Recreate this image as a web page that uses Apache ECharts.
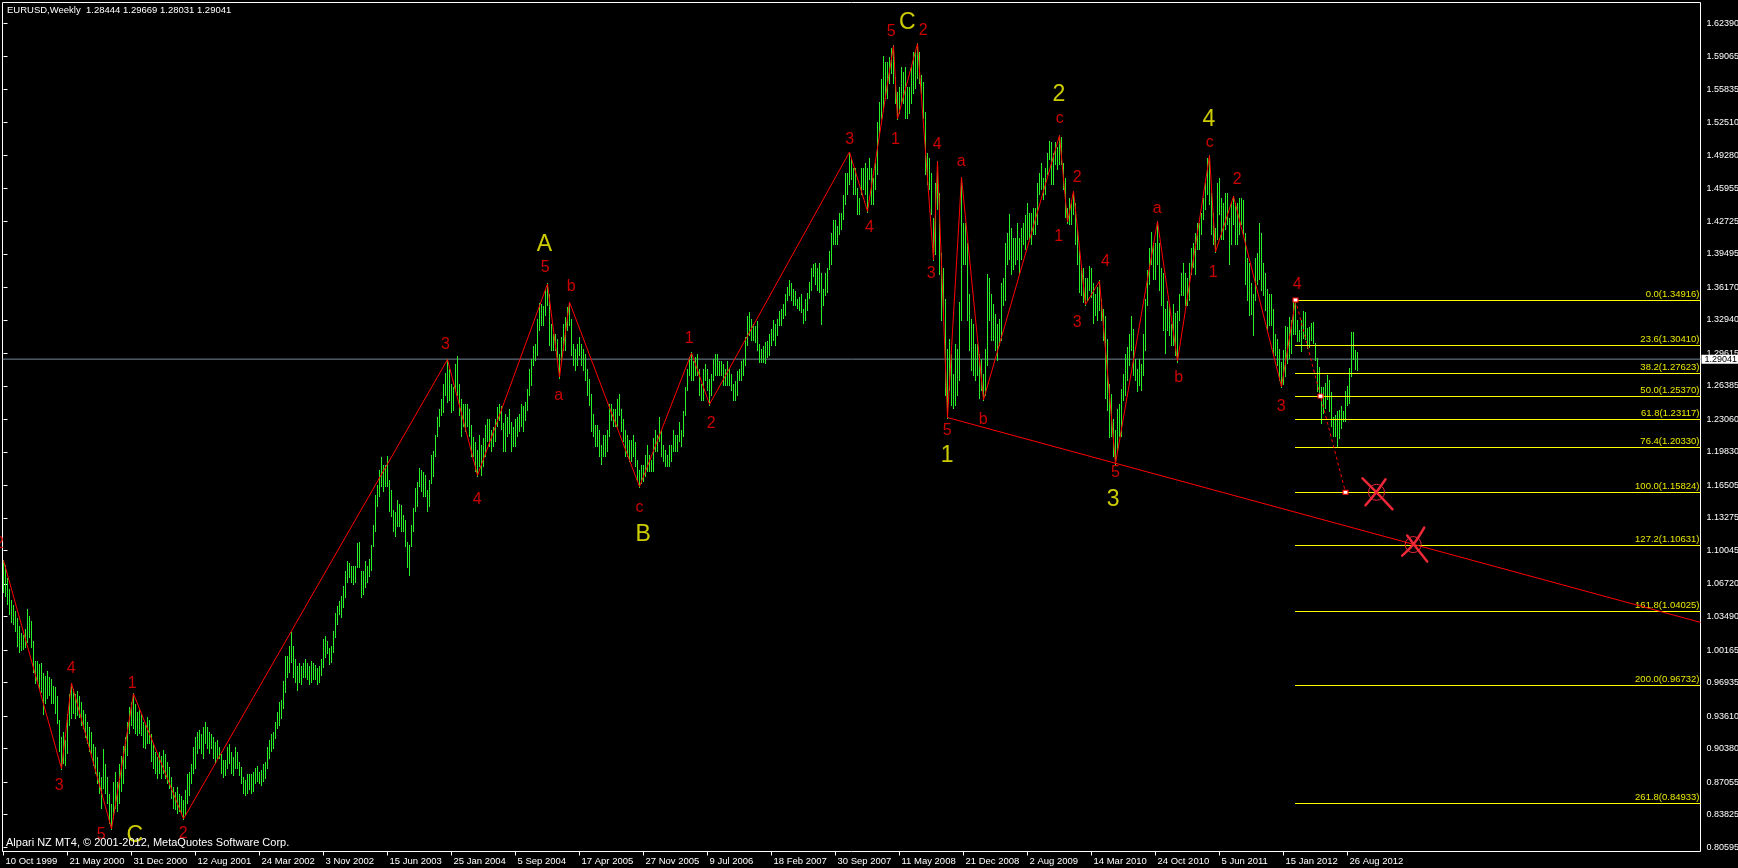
<!DOCTYPE html>
<html><head><meta charset="utf-8"><title>EURUSD Weekly</title>
<script src="https://cdn.jsdelivr.net/npm/echarts@6.0.0/dist/echarts.min.js"></script>
<style>html,body{margin:0;padding:0;background:#000;overflow:hidden}#chart{width:1738px;height:868px}</style>
</head><body><div id="chart"></div>
<script>
// ---------------- texts ----------------
const symbolTitle = 'EURUSD,Weekly  1.28444 1.29669 1.28031 1.29041';
const copyright = 'Alpari NZ MT4, \u00a9 2001-2012, MetaQuotes Software Corp.';
const lastPrice = 1.29041;

// ---------------- axes ----------------
const xLabels = ['10 Oct 1999','21 May 2000','31 Dec 2000','12 Aug 2001','24 Mar 2002','3 Nov 2002','15 Jun 2003','25 Jan 2004','5 Sep 2004','17 Apr 2005','27 Nov 2005','9 Jul 2006','18 Feb 2007','30 Sep 2007','11 May 2008','21 Dec 2008','2 Aug 2009','14 Mar 2010','24 Oct 2010','5 Jun 2011','15 Jan 2012','26 Aug 2012'];
const weeksPerLabel = 32;
const yTicks = [1.62390,1.59065,1.55835,1.52510,1.49280,1.45955,1.42725,1.39495,1.36170,1.32940,1.29615,1.26385,1.23060,1.19830,1.16505,1.13275,1.10045,1.06720,1.03490,1.00165,0.96935,0.93610,0.90380,0.87055,0.83825,0.80595];
const X_MIN = -0.5, X_MAX = 848.5;
const Y_MIN = 0.80166, Y_MAX = 1.64442;

// ---------------- weekly bars [low, high], week 0 = 10 Oct 1999 ----------------
const w1999 = [[1.0600,1.0905],[1.0560,1.0860],[1.0480,1.0730],[1.0380,1.0620],[1.0300,1.0510],[1.0280,1.0460],[1.0210,1.0400],[1.0060,1.0330],[1.0000,1.0250],[1.0020,1.0180],[1.0030,1.0160],[1.0050,1.0220]];
const w2000 = [[1.0100,1.0414],[1.0150,1.0350],[1.0050,1.0300],[0.9800,1.0100],[0.9690,0.9900],[0.9700,0.9900],[0.9640,0.9870],[0.9600,0.9880],[0.9390,0.9780],[0.9500,0.9750],
[0.9550,0.9800],[0.9580,0.9740],[0.9500,0.9720],[0.9500,0.9650],[0.9400,0.9640],[0.9300,0.9560],[0.9020,0.9320],[0.8840,0.9150],[0.8900,0.9200],[0.8880,0.9120],
[0.9000,0.9380],[0.9280,0.9580],[0.9350,0.9688],[0.9400,0.9620],[0.9350,0.9580],[0.9380,0.9600],[0.9360,0.9560],[0.9280,0.9500],[0.9250,0.9420],[0.9160,0.9380],
[0.9100,0.9300],[0.9020,0.9250],[0.9000,0.9200],[0.8880,0.9080],[0.8800,0.9050],[0.8700,0.8950],[0.8600,0.8800],[0.8450,0.8750],[0.8650,0.9030],[0.8600,0.8880],
[0.8500,0.8750],[0.8300,0.8580],[0.8242,0.8480],[0.8350,0.8700],[0.8450,0.8800],[0.8420,0.8700],[0.8500,0.8880],[0.8620,0.8960],[0.8700,0.9060],[0.8850,0.9150],
[0.8980,0.9300],[0.9200,0.9450]];
const w2001 = [[0.9280,0.9500],[0.9250,0.9582],[0.9200,0.9480],[0.9180,0.9400],[0.9200,0.9420],[0.9180,0.9380],[0.9060,0.9300],[0.9050,0.9270],[0.9100,0.9350],[0.9100,0.9320],
[0.8920,0.9180],[0.8850,0.9080],[0.8800,0.9000],[0.8750,0.8950],[0.8800,0.9000],[0.8750,0.8960],[0.8800,0.9020],[0.8750,0.8980],[0.8700,0.8900],[0.8650,0.8850],
[0.8550,0.8750],[0.8450,0.8650],[0.8440,0.8600],[0.8400,0.8650],[0.8420,0.8580],[0.8400,0.8560],[0.8341,0.8520],[0.8380,0.8620],[0.8500,0.8780],[0.8580,0.8800],
[0.8700,0.8880],[0.8800,0.9050],[0.8850,0.9150],[0.9000,0.9200],[0.9050,0.9220],[0.9000,0.9180],[0.8950,0.9250],[0.9100,0.9300],[0.9050,0.9250],[0.9000,0.9200],
[0.9050,0.9180],[0.8950,0.9150],[0.8900,0.9100],[0.8950,0.9120],[0.8950,0.9050],[0.8800,0.8980],[0.8760,0.8920],[0.8780,0.8920],[0.8850,0.9050],[0.8900,0.9080],
[0.8800,0.9000],[0.8780,0.8950]];
const w2002 = [[0.8850,0.9050],[0.8850,0.9000],[0.8780,0.8900],[0.8700,0.8850],[0.8600,0.8750],[0.8580,0.8720],[0.8600,0.8780],[0.8640,0.8780],[0.8600,0.8780],[0.8620,0.8800],
[0.8700,0.8840],[0.8720,0.8860],[0.8700,0.8800],[0.8680,0.8820],[0.8720,0.8880],[0.8750,0.8900],[0.8850,0.9050],[0.8950,0.9120],[0.9020,0.9180],[0.9050,0.9200],
[0.9150,0.9300],[0.9250,0.9400],[0.9280,0.9500],[0.9350,0.9520],[0.9450,0.9700],[0.9600,0.9950],[0.9750,0.9950],[0.9800,1.0050],[0.9900,1.0190],[0.9750,1.0050],
[0.9700,0.9920],[0.9620,0.9850],[0.9700,0.9880],[0.9680,0.9850],[0.9750,0.9880],[0.9750,0.9920],[0.9730,0.9880],[0.9680,0.9850],[0.9700,0.9900],[0.9730,0.9880],
[0.9730,0.9860],[0.9680,0.9830],[0.9700,0.9850],[0.9770,0.9920],[0.9850,1.0120],[0.9950,1.0150],[0.9990,1.0100],[0.9880,1.0030],[0.9900,1.0050],[1.0000,1.0200],
[1.0150,1.0380],[1.0280,1.0450]];
const w2003 = [[1.0380,1.0500],[1.0350,1.0550],[1.0450,1.0650],[1.0550,1.0800],[1.0700,1.0900],[1.0750,1.0880],[1.0700,1.0850],[1.0680,1.0850],[1.0700,1.0850],[1.0850,1.1070],
[1.0850,1.1080],[1.0550,1.0800],[1.0580,1.0800],[1.0650,1.0900],[1.0700,1.0850],[1.0760,1.0920],[1.0820,1.1050],[1.1050,1.1250],[1.1200,1.1550],[1.1450,1.1650],
[1.1550,1.1800],[1.1650,1.1930],[1.1600,1.1850],[1.1650,1.1850],[1.1650,1.1933],[1.1400,1.1700],[1.1350,1.1600],[1.1200,1.1400],[1.1150,1.1380],[1.1250,1.1500],
[1.1250,1.1460],[1.1200,1.1450],[1.1200,1.1350],[1.1050,1.1300],[1.0850,1.1080],[1.0770,1.1050],[1.1050,1.1250],[1.1200,1.1420],[1.1400,1.1620],[1.1450,1.1680],
[1.1650,1.1820],[1.1600,1.1800],[1.1550,1.1780],[1.1550,1.1750],[1.1400,1.1600],[1.1450,1.1700],[1.1680,1.1950],[1.1750,1.1990],[1.1950,1.2150],[1.2150,1.2320],
[1.2250,1.2400],[1.2350,1.2500]];
const w2004 = [[1.2380,1.2650],[1.2550,1.2760],[1.2480,1.2900],[1.2500,1.2800],[1.2380,1.2650],[1.2400,1.2620],[1.2600,1.2850],[1.2550,1.2930],[1.2350,1.2650],[1.2150,1.2500],
[1.2250,1.2450],[1.2200,1.2450],[1.2250,1.2450],[1.2150,1.2400],[1.1950,1.2250],[1.1950,1.2130],[1.1800,1.2080],[1.1750,1.2000],[1.1850,1.2150],[1.1760,1.2050],
[1.1850,1.2120],[1.1950,1.2250],[1.2100,1.2300],[1.2050,1.2300],[1.2000,1.2200],[1.2050,1.2230],[1.2100,1.2300],[1.2250,1.2420],[1.2300,1.2450],[1.2220,1.2430],
[1.2000,1.2270],[1.2000,1.2350],[1.2150,1.2320],[1.2180,1.2400],[1.2000,1.2280],[1.2050,1.2230],[1.2050,1.2300],[1.2150,1.2320],[1.2200,1.2350],[1.2250,1.2450],
[1.2200,1.2430],[1.2300,1.2470],[1.2400,1.2600],[1.2550,1.2800],[1.2650,1.2900],[1.2850,1.3030],[1.2900,1.3050],[1.2950,1.3300],[1.3200,1.3460],[1.3250,1.3450],
[1.3250,1.3430],[1.3350,1.3600]];
const w2005 = [[1.3450,1.3650],[1.3050,1.3550],[1.3000,1.3250],[1.3000,1.3150],[1.3000,1.3150],[1.2900,1.3100],[1.2725,1.2950],[1.2900,1.3120],[1.3000,1.3250],[1.3000,1.3320],
[1.3200,1.3420],[1.3250,1.3470],[1.2950,1.3300],[1.2850,1.3050],[1.2800,1.3000],[1.2850,1.3050],[1.2950,1.3120],[1.2850,1.3050],[1.2800,1.3000],[1.2700,1.2950],
[1.2550,1.2800],[1.2450,1.2700],[1.2200,1.2550],[1.2150,1.2350],[1.2050,1.2250],[1.2050,1.2250],[1.1950,1.2200],[1.1870,1.2050],[1.1950,1.2150],[1.1950,1.2150],
[1.2000,1.2200],[1.2150,1.2450],[1.2300,1.2450],[1.2250,1.2400],[1.2250,1.2400],[1.2250,1.2500],[1.2350,1.2550],[1.2200,1.2400],[1.2100,1.2300],[1.1950,1.2200],
[1.1950,1.2150],[1.1900,1.2100],[1.1900,1.2100],[1.1950,1.2150],[1.1850,1.2080],[1.1700,1.1900],[1.1638,1.1800],[1.1680,1.1850],[1.1700,1.1850],[1.1750,1.1950],
[1.1800,1.2050],[1.1800,1.1950]];
const w2006 = [[1.1800,1.1900],[1.1800,1.2120],[1.2000,1.2200],[1.2000,1.2150],[1.2100,1.2320],[1.1950,1.2200],[1.1900,1.2050],[1.1850,1.2000],[1.1850,1.1950],[1.1850,1.2050],
[1.1900,1.2050],[1.2000,1.2200],[1.2000,1.2150],[1.2000,1.2150],[1.2100,1.2280],[1.2050,1.2200],[1.2150,1.2380],[1.2350,1.2620],[1.2600,1.2800],[1.2750,1.2920],
[1.2700,1.2965],[1.2700,1.2880],[1.2750,1.2920],[1.2750,1.2950],[1.2550,1.2800],[1.2500,1.2650],[1.2500,1.2800],[1.2700,1.2850],[1.2600,1.2800],[1.2455,1.2700],
[1.2550,1.2750],[1.2700,1.2900],[1.2750,1.2950],[1.2750,1.2950],[1.2750,1.2880],[1.2750,1.2880],[1.2650,1.2850],[1.2650,1.2800],[1.2650,1.2880],[1.2650,1.2800],
[1.2600,1.2750],[1.2500,1.2650],[1.2500,1.2680],[1.2550,1.2780],[1.2700,1.2800],[1.2700,1.2880],[1.2750,1.2900],[1.2850,1.3120],[1.3050,1.3330],[1.3150,1.3370],
[1.3100,1.3300],[1.3100,1.3250]];
const w2007 = [[1.3080,1.3230],[1.3000,1.3280],[1.2880,1.3050],[1.2880,1.3000],[1.2880,1.3030],[1.2870,1.3070],[1.2930,1.3080],[1.2950,1.3150],[1.3050,1.3200],[1.3100,1.3290],
[1.3050,1.3250],[1.3150,1.3300],[1.3250,1.3380],[1.3250,1.3400],[1.3320,1.3450],[1.3350,1.3550],[1.3500,1.3620],[1.3550,1.3682],[1.3500,1.3650],[1.3450,1.3600],
[1.3450,1.3580],[1.3420,1.3500],[1.3400,1.3520],[1.3380,1.3550],[1.3270,1.3400],[1.3300,1.3500],[1.3400,1.3560],[1.3520,1.3660],[1.3600,1.3800],[1.3730,1.3840],
[1.3650,1.3852],[1.3600,1.3800],[1.3580,1.3850],[1.3260,1.3750],[1.3450,1.3600],[1.3550,1.3750],[1.3580,1.3800],[1.3800,1.3970],[1.3850,1.4150],[1.4050,1.4280],
[1.4050,1.4280],[1.4050,1.4220],[1.4150,1.4350],[1.4200,1.4350],[1.4300,1.4530],[1.4450,1.4750],[1.4550,1.4750],[1.4650,1.4960],[1.4700,1.4900],[1.4550,1.4800],
[1.4550,1.4800],[1.4350,1.4600]];
const w2008 = [[1.4350,1.4500],[1.4550,1.4800],[1.4600,1.4800],[1.4550,1.4850],[1.4370,1.4800],[1.4700,1.4900],[1.4450,1.4800],[1.4450,1.4700],[1.4600,1.4850],[1.4750,1.5250],
[1.5150,1.5450],[1.5300,1.5680],[1.5400,1.5905],[1.5500,1.5850],[1.5500,1.5850],[1.5650,1.5900],[1.5750,1.5990],[1.5650,1.6015],[1.5450,1.5700],[1.5290,1.5550],
[1.5350,1.5600],[1.5450,1.5800],[1.5450,1.5750],[1.5300,1.5800],[1.5300,1.5600],[1.5350,1.5600],[1.5450,1.5800],[1.5550,1.5950],[1.5600,1.5950],[1.5700,1.6035],
[1.5650,1.5950],[1.5550,1.5720],[1.5300,1.5650],[1.4750,1.5350],[1.4650,1.4950],[1.4600,1.4900],[1.4350,1.4750],[1.3890,1.4300],[1.3950,1.4650],[1.4400,1.4865],
[1.3750,1.4550],[1.3300,1.3950],[1.3350,1.3800],[1.2550,1.3500],[1.2325,1.3000],[1.2600,1.3100],[1.2450,1.2950],[1.2420,1.2750],[1.2450,1.3050],[1.2550,1.3000],
[1.2700,1.3470],[1.3300,1.4710]];
const w2009 = [[1.3850,1.4250],[1.3850,1.4250],[1.3300,1.4050],[1.3000,1.3550],[1.2800,1.3300],[1.2750,1.3250],[1.2700,1.3050],[1.2750,1.3050],[1.2520,1.2950],[1.2600,1.2900],
[1.2500,1.2750],[1.2550,1.3000],[1.2850,1.3740],[1.3300,1.3700],[1.3100,1.3550],[1.3100,1.3450],[1.3000,1.3350],[1.2900,1.3250],[1.3050,1.3300],[1.3100,1.3650],
[1.3450,1.3700],[1.3500,1.4050],[1.3850,1.4150],[1.3900,1.4340],[1.3750,1.4200],[1.3800,1.4100],[1.3850,1.4100],[1.3900,1.4250],[1.3750,1.4100],[1.3900,1.4200],
[1.4050,1.4250],[1.4000,1.4330],[1.4100,1.4450],[1.4100,1.4350],[1.4050,1.4350],[1.4150,1.4400],[1.4150,1.4400],[1.4250,1.4650],[1.4550,1.4750],[1.4600,1.4850],
[1.4500,1.4700],[1.4550,1.4800],[1.4750,1.4950],[1.4900,1.5060],[1.4650,1.5050],[1.4650,1.4950],[1.4850,1.5050],[1.4800,1.5000],[1.4850,1.5125],[1.4850,1.5100],
[1.4600,1.4850],[1.4320,1.4700]];
const w2010 = [[1.4265,1.4400],[1.4250,1.4500],[1.4250,1.4450],[1.4350,1.4570],[1.4050,1.4450],[1.3850,1.4200],[1.3580,1.3980],[1.3550,1.3820],[1.3480,1.3800],[1.3445,1.3700],
[1.3500,1.3700],[1.3600,1.3820],[1.3530,1.3800],[1.3270,1.3650],[1.3350,1.3550],[1.3300,1.3620],[1.3400,1.3680],[1.3300,1.3500],[1.3100,1.3400],[1.2520,1.3330],
[1.2400,1.3100],[1.2140,1.2650],[1.2150,1.2550],[1.1950,1.2300],[1.1868,1.2200],[1.2000,1.2400],[1.2150,1.2450],[1.2150,1.2600],[1.2500,1.2750],[1.2550,1.2950],
[1.2700,1.3020],[1.2850,1.3150],[1.3000,1.3330],[1.2750,1.3200],[1.2700,1.2900],[1.2590,1.2800],[1.2650,1.2900],[1.2600,1.2850],[1.2750,1.3150],[1.3000,1.3500],
[1.3450,1.3780],[1.3650,1.4000],[1.3850,1.4160],[1.3700,1.4050],[1.3700,1.4050],[1.3850,1.4270],[1.3600,1.4050],[1.3450,1.3800],[1.3200,1.3750],[1.2970,1.3400],
[1.3200,1.3480],[1.3150,1.3450]];
const w2011 = [[1.3050,1.3250],[1.3050,1.3450],[1.2950,1.3360],[1.2885,1.3380],[1.3300,1.3550],[1.3550,1.3750],[1.3550,1.3850],[1.3450,1.3750],[1.3450,1.3700],[1.3500,1.3850],
[1.3750,1.4000],[1.3820,1.4050],[1.3750,1.4150],[1.4000,1.4250],[1.4000,1.4250],[1.4150,1.4350],[1.4300,1.4500],[1.4400,1.4650],[1.4550,1.4900],[1.4450,1.4925],
[1.4150,1.4550],[1.4050,1.4350],[1.3968,1.4200],[1.4100,1.4650],[1.4350,1.4700],[1.4100,1.4500],[1.4100,1.4450],[1.4200,1.4550],[1.4250,1.4550],[1.3850,1.4300],
[1.4050,1.4450],[1.4250,1.4520],[1.4050,1.4450],[1.4050,1.4450],[1.4150,1.4500],[1.4250,1.4500],[1.4150,1.4480],[1.3650,1.4150],[1.3500,1.3900],[1.3350,1.3850],
[1.3360,1.3650],[1.3150,1.3550],[1.3500,1.3900],[1.3650,1.3950],[1.3700,1.4250],[1.3600,1.4150],[1.3550,1.3850],[1.3400,1.3750],[1.3210,1.3600],[1.3250,1.3550],
[1.3250,1.3550],[1.2950,1.3400]];
const w2012 = [[1.2950,1.3150],[1.2850,1.3100],[1.2700,1.3000],[1.2630,1.2874],[1.2660,1.2990],[1.2742,1.3228],[1.2874,1.3222],[1.2924,1.3321],[1.2973,1.3288],[1.3156,1.3480],
[1.3156,1.3486],[1.3090,1.3288],[1.3090,1.3189],[1.2990,1.3288],[1.3123,1.3377],[1.3110,1.3370],[1.3023,1.3205],[1.3030,1.3220],[1.3096,1.3261],[1.3073,1.3271],
[1.2897,1.3056],[1.2593,1.2907],[1.2544,1.2818],[1.2279,1.2620],[1.2378,1.2626],[1.2428,1.2666],[1.2511,1.2742],[1.2395,1.2692],[1.2246,1.2577],[1.2147,1.2329],
[1.2147,1.2345],[1.2040,1.2385],[1.2131,1.2395],[1.2229,1.2434],[1.2296,1.2388],[1.2296,1.2583],[1.2454,1.2633],[1.2477,1.2808],[1.2742,1.3172],[1.2907,1.3172],
[1.2808,1.2990],[1.2803,1.2967]];

// ---------------- Elliott wave pivots [week, price] ----------------
const wavePivots = [[0,1.0905],[29,0.8840],[34,0.9688],[54,0.8242],[65,0.9582],[90,0.8341],[222,1.2900],[237,1.1750],[272,1.3650],[278,1.2725],[283,1.3470],[318,1.1638],[344,1.2965],[353,1.2455],[423,1.4960],[432,1.4370],[445,1.6015],[447,1.5290],[457,1.6035],[465,1.3890],[467,1.4865],[472,1.2325],[479,1.4710],[490,1.2500],[528,1.5125],[532,1.4265],[535,1.4570],[541,1.3445],[548,1.3680],[556,1.1868],[577,1.4270],[587,1.2885],[603,1.4925],[606,1.3968],[615,1.4520],[639,1.2630],[646,1.3486]];
const trendLine = [[472,1.2324],[848.5,1.0291]];
const projection = [[646,1.34916],[658.5,1.25370],[671,1.15824]];
const fibStartWeek = 646;
const fibPct = [0.0,23.6,38.2,50.0,61.8,76.4,100.0,127.2,161.8,200.0,261.8];
const fibPrice = [1.34916,1.30410,1.27623,1.25370,1.23117,1.20330,1.15824,1.10631,1.04025,0.96732,0.84933];
const crossMarks = [[686.5,1.15824],[704.85,1.10631]];

// ---------------- labels [text, week, price] ----------------
const redLabels = [['2',-2,1.1074],['3',27.85,0.8672],['4',33.85,0.9836],['5',48.85,0.8186],['1',64.35,0.9687],['2',89.85,0.8199],
['3',221,1.3050],['4',236.85,1.1508],['5',270.85,1.3811],['b',283.85,1.3625],['a',277.65,1.2543],['c',318,1.1434],['1',342.85,1.3106],['2',353.85,1.2262],
['3',423.15,1.5082],['4',433,1.4213],['5',443.85,1.6153],['2',459.85,1.6163],['1',446,1.5082],['4',466.85,1.5029],['3',463.85,1.3752],['a',478.85,1.4862],
['5',471.85,1.2192],['b',489.85,1.2299],['c',528.15,1.5287],['2',536.85,1.4709],['1',527.65,1.4125],['4',551,1.3869],['3',536.85,1.3267],['5',556,1.1778],
['a',576.85,1.4401],['b',587.65,1.2724],['c',603.15,1.5054],['2',616.85,1.4691],['1',604.85,1.3763],['3',638.85,1.2434],['4',646.85,1.3645]];
const yellowLabels = [['C',65.65,0.8176],['A',270.5,1.4042],['B',319.85,1.1163],['C',451.85,1.6245],['1',471.85,1.1944],['2',527.65,1.5525],['3',554.85,1.1508],['4',602.65,1.5277]];

// ---------------- build ----------------
const years = [w1999,w2000,w2001,w2002,w2003,w2004,w2005,w2006,w2007,w2008,w2009,w2010,w2011,w2012];
const bars = [];
years.forEach(a => a.forEach(p => bars.push([bars.length, p[0], p[1]])));
const xTickVals = xLabels.map((_, i) => i * weeksPerLabel);

const FONT = 'Liberation Sans';
const BAR_COLOR = '#28f028';
const RED = '#ff0000';
const CROSS_COLOR = '#ee2838';
const CROSS_STROKES = [
  [[[-14,-14],[1,1],[16,17]], [[9,-13],[-1,1],[-11,13]]],
  [[[-11,11],[0,0],[11,-17]], [[-6,-9],[3,3],[14,17]]]
];

const chart = echarts.init(document.getElementById('chart'), null, {renderer:'canvas', width:1738, height:868});
const option = {
  backgroundColor: '#000',
  animation: false,
  title: [
    {text: symbolTitle, left: 7, top: 5, padding: 0, textStyle: {color:'#fff', fontSize: 9.5, fontWeight:'normal', fontFamily: FONT}},
    {text: copyright, left: 6, top: 837, padding: 0, textStyle: {color:'#fff', fontSize: 11, fontWeight:'normal', fontFamily: FONT}}
  ],
  grid: {left: 2.5, top: 2.5, right: 37.5, bottom: 16.5, show: true, borderColor: '#fff', borderWidth: 1, containLabel: false, outerBoundsMode: 'none'},
  xAxis: {
    type: 'value', min: X_MIN, max: X_MAX,
    axisLine: {show: false}, splitLine: {show: false},
    axisTick: {show: true, length: 4, lineStyle: {color: '#fff'}, customValues: xTickVals},
    axisLabel: {color: '#fff', fontSize: 9.5, fontFamily: FONT, margin: 5, align: 'left', padding: [0,0,0,2], hideOverlap: false,
      customValues: xTickVals, formatter: v => xLabels[Math.round(v / weeksPerLabel)] || ''}
  },
  yAxis: {
    type: 'value', position: 'right', min: Y_MIN, max: Y_MAX, scale: true,
    axisLine: {show: false}, splitLine: {show: false},
    axisTick: {show: true, length: 4, lineStyle: {color: '#fff'}, customValues: yTicks},
    axisLabel: {color: '#fff', fontSize: 9, fontFamily: FONT, margin: 6, hideOverlap: false, customValues: yTicks, formatter: v => v.toFixed(5)}
  },
  series: [
    { // bid line
      type: 'line', z: 1, silent: true, symbol: 'none', data: [[X_MIN, lastPrice], [X_MAX, lastPrice]],
      lineStyle: {color: '#778899', width: 1},
      endLabel: {show: true, formatter: lastPrice.toFixed(5), color: '#000', backgroundColor: '#fff', fontSize: 9, fontFamily: FONT, padding: [1,8,0,3], lineHeight: 8, distance: 1}
    },
    { // weekly bars
      type: 'custom', z: 2, silent: true, clip: false, data: bars, encode: {x: 0, y: [1, 2]},
      renderItem: (params, api) => {
        const top = api.coord([api.value(0), api.value(2)]);
        const bot = api.coord([api.value(0), api.value(1)]);
        const x = Math.floor(top[0]) + 0.5;
        return {type: 'line', silent: true, shape: {x1: x, y1: Math.floor(top[1]), x2: x, y2: Math.ceil(bot[1]) + 1}, style: {stroke: BAR_COLOR, lineWidth: 1}};
      }
    },
    { // fibonacci levels
      type: 'custom', z: 3, silent: true, clip: false, data: fibPrice.map((p, i) => [fibStartWeek, p, i]), encode: {x: 0, y: 1},
      renderItem: (params, api) => {
        const i = api.value(2);
        const s = api.coord([api.value(0), api.value(1)]);
        const xr = params.coordSys.x + params.coordSys.width;
        const y = Math.round(s[1]) + 0.5;
        return {type: 'group', children: [
          {type: 'line', shape: {x1: Math.floor(s[0]), y1: y, x2: xr, y2: y}, style: {stroke: '#ffff00', lineWidth: 1}},
          {type: 'text', style: {x: xr - 1, y: y - 1.5, text: fibPct[i].toFixed(1) + '(' + fibPrice[i].toFixed(5) + ')', fill: '#e8e800', font: '9.5px "Liberation Sans"', align: 'right', verticalAlign: 'bottom'}}
        ]};
      }
    },
    { type: 'line', z: 4, silent: true, symbol: 'none', data: wavePivots, lineStyle: {color: RED, width: 1} },
    { type: 'line', z: 4, silent: true, symbol: 'none', data: trendLine, lineStyle: {color: RED, width: 1} },
    { type: 'line', z: 4, silent: true, symbol: 'rect', symbolSize: [5, 4], showSymbol: true, data: projection,
      itemStyle: {color: '#fff', borderColor: RED, borderWidth: 1}, lineStyle: {color: RED, width: 1, type: [3, 3]} },
    { type: 'scatter', z: 5, silent: true, clip: false, symbolSize: 1, itemStyle: {color: 'rgba(0,0,0,0)'},
      data: redLabels.map(d => ({name: d[0], value: [d[1], d[2]]})),
      label: {show: true, position: 'inside', formatter: '{b}', color: RED, fontSize: 16, fontFamily: FONT} },
    { type: 'scatter', z: 5, silent: true, clip: false, symbolSize: 1, itemStyle: {color: 'rgba(0,0,0,0)'},
      data: yellowLabels.map(d => ({name: d[0], value: [d[1], d[2]]})),
      label: {show: true, position: 'inside', formatter: '{b}', color: '#ffff00', fontSize: 23, fontFamily: FONT} },
    { // hand drawn crosses
      type: 'custom', z: 6, silent: true, clip: false, data: crossMarks, encode: {x: 0, y: 1},
      renderItem: (params, api) => {
        const c = api.coord([api.value(0), api.value(1)]);
        const strokes = CROSS_STROKES[params.dataIndex];
        const children = strokes.map(pts => ({type: 'polyline', shape: {points: pts.map(p => [c[0] + p[0], c[1] + p[1]]), smooth: 0.4},
          style: {stroke: CROSS_COLOR, lineWidth: 2.5, fill: 'none', lineCap: 'round'}}));
        children.push({type: 'circle', shape: {cx: c[0], cy: c[1], r: 8}, style: {stroke: CROSS_COLOR, lineWidth: 1, fill: 'none'}});
        return {type: 'group', children};
      }
    }
  ]
};
chart.setOption(option);
</script></body></html>
